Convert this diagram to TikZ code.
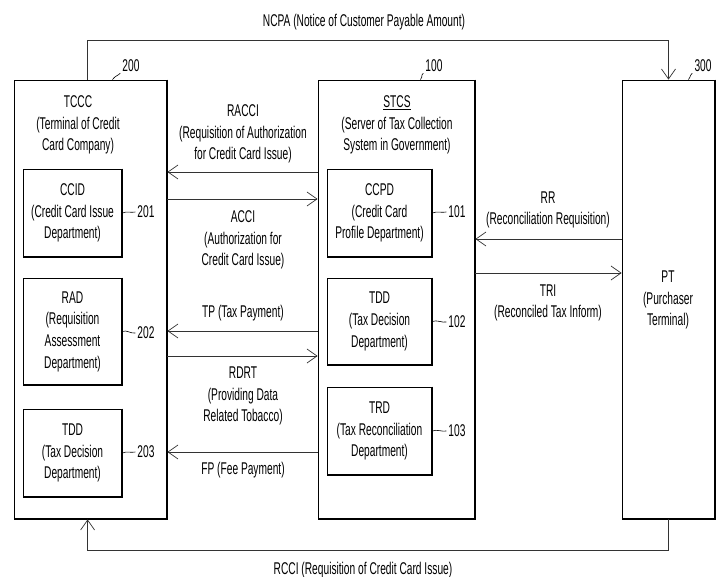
\documentclass[tikz,border=0pt]{standalone}
\usepackage{fontspec}
\setmainfont{Liberation Sans}[FakeStretch=0.6]
\usetikzlibrary{arrows.meta,calc}
\begin{document}
\begin{tikzpicture}[x=1bp,y=-1bp,
  every node/.style={font=\fontsize{17bp}{21.7bp}\selectfont, inner sep=0pt, align=center},
  bigbox/.style={draw, line width=0.8bp, minimum height=439bp},
  smallbox/.style={draw, line width=0.8bp, minimum width=#1},
  arr/.style={line width=0.7bp, draw=black!80, -{Straight Barb[length=10bp,width=14bp,line width=0.7bp]}},
  lead/.style={line width=0.6bp},
  heavy/.style={line width=2bp}]
\useasboundingbox (0,0) rectangle (725,577);
% big boxes
\node[bigbox, minimum width=153bp] (L) at (90.5,299.5) {};
\node[bigbox, minimum width=157bp] (M) at (396.5,299.5) {};
\node[bigbox, minimum width=93bp] (R) at (668.5,299.5) {};
% inner boxes left
\node[smallbox=99bp, minimum height=88bp] (L1) at (72.5,213) {CCID\\(Credit Card Issue\\Department)};
\node[smallbox=99bp, minimum height=107bp] (L2) at (72.5,331.5) {RAD\\(Requisition\\Assessment\\Department)};
\node[smallbox=99bp, minimum height=88bp] (L3) at (72.5,453) {TDD\\(Tax Decision\\Department)};
% inner boxes middle
\node[smallbox=105bp, minimum height=88bp] (M1) at (379.5,213) {CCPD\\(Credit Card\\Profile Department)};
\node[smallbox=105bp, minimum height=87bp] (M2) at (379.5,321.5) {TDD\\(Tax Decision\\Department)};
\node[smallbox=105bp, minimum height=88bp] (M3) at (379.5,431) {TRD\\(Tax Reconciliation\\Department)};
% heavy right/bottom edges (shadow)
\foreach \n in {L,M,R,L1,L2,L3,M1,M2,M3}{
  \draw[heavy] (\n.north east) -- (\n.south east) -- (\n.south west);
}
% titles
\node (tL) at (78,125) {TCCC\\(Terminal of Credit\\Card Company)};
\node (tM) at (397,125) {\underline{STCS}\\(Server of Tax Collection\\System in Government)};
\node (tR) at (668,300) {PT\\(Purchaser\\Terminal)};
% reference numbers
\node (n200) at (131,66) {200};
\node (n100) at (434,66) {100};
\node (n300) at (703,66) {300};
\draw[lead] (L.north east) ++(-55,0) .. controls +(3,-4) and +(-3,3) .. ($(n200.south west)+(-2,1)$);
\draw[lead] (M.north east) ++(-55,0) .. controls +(3,-4) and +(-3,3) .. ($(n100.south west)+(-2,1)$);
\draw[lead] (R.north east) ++(-27,0) .. controls +(3,-4) and +(-3,3) .. ($(n300.south west)+(-2,1)$);
\node (n201) at (146,212) {201};
\node (n202) at (146,333) {202};
\node (n203) at (146,452) {203};
\node (n101) at (457,212) {101};
\node (n102) at (457,322) {102};
\node (n103) at (457,431) {103};
\foreach \b/\n in {L1/n201,L2/n202,L3/n203,M1/n101,M2/n102,M3/n103}{
  \draw[lead] (\b.east) .. controls +(4,-2) and +(-4,1) .. ($(\n.west)+(-2,0)$);
}
% connectors between L and M
\draw[arr] (M.west |- 0,172) -- (L.east |- 0,172);
\draw[arr] (L.east |- 0,199) -- (M.west |- 0,199);
\draw[arr] (M.west |- 0,331) -- (L.east |- 0,331);
\draw[arr] (L.east |- 0,356) -- (M.west |- 0,356);
\draw[arr] (M.west |- 0,452) -- (L.east |- 0,452);
% connectors between M and R
\draw[arr] (R.west |- 0,239) -- (M.east |- 0,239);
\draw[arr] (M.east |- 0,273) -- (R.west |- 0,273);
% labels
\node (lRACCI) at (243,134) {RACCI\\(Requisition of Authorization\\for Credit Card Issue)};
\node (lACCI) at (243,240) {ACCI\\(Authorization for\\Credit Card Issue)};
\node (lTP) at (243,313) {TP (Tax Payment)};
\node (lRDRT) at (243,396) {RDRT\\(Providing Data\\Related Tobacco)};
\node (lFP) at (243,470) {FP (Fee Payment)};
\node (lRR) at (548,210) {RR\\(Reconciliation Requisition)};
\node (lTRI) at (548,303) {TRI\\(Reconciled Tax Inform)};
% outer loops
\draw[arr] ([xshift=74bp]L.north west) -- ++(0,-39) -| (R.north);
\node (lNCPA) at (364,22) {NCPA (Notice of Customer Payable Amount)};
\draw[arr] (R.south) -- ++(0,31) -| ([xshift=74bp]L.south west);
\node (lRCCI) at (363,570) {RCCI (Requisition of Credit Card Issue)};
\end{tikzpicture}
\end{document}
